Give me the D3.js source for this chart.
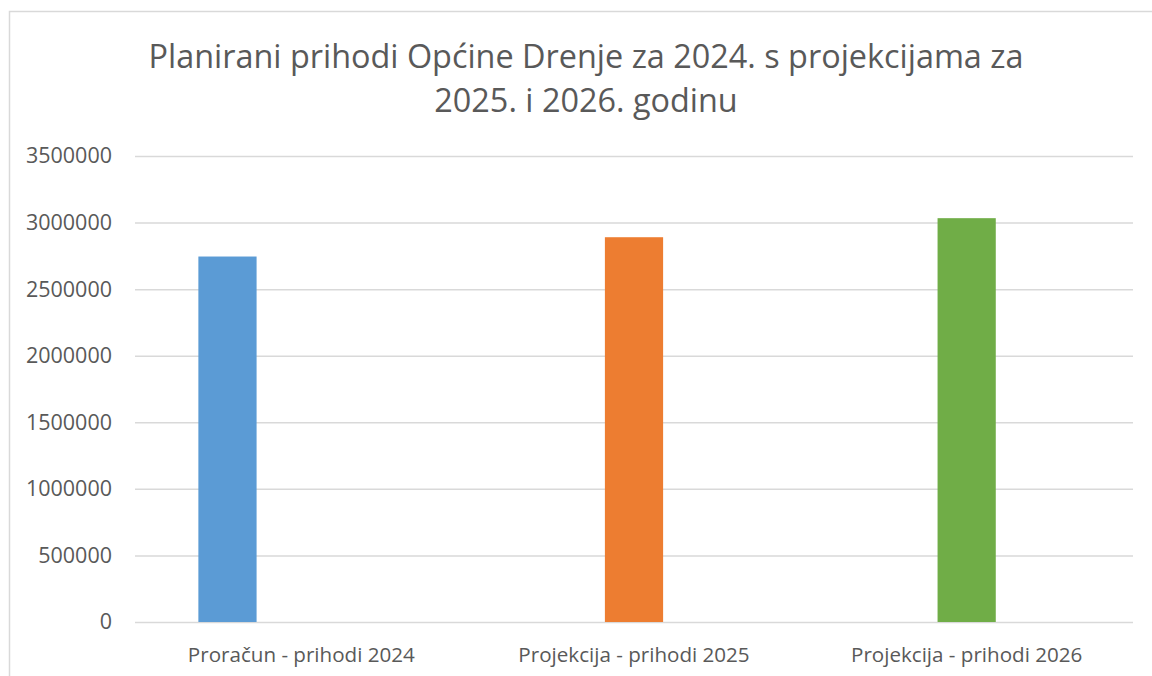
<!DOCTYPE html>
<html>
<head>
<meta charset="utf-8">
<script src="https://cdn.jsdelivr.net/npm/d3@7"></script>
<style>
  body { margin: 0; background: #fff; }
  svg { display: block; font-family: "Open Sans", sans-serif; }
</style>
</head>
<body>
<svg id="chart" width="1152" height="676"></svg>
<script>
const categories = ["Proračun - prihodi 2024", "Projekcija - prihodi 2025", "Projekcija - prihodi 2026"];
const values = [2745000, 2890000, 3033000];
const seriesOf = ["proracun", "projekcija", "projekcija"];
const barColors = ["#5b9bd5", "#ed7d31", "#70ad47"];
const yTicks = [0, 500000, 1000000, 1500000, 2000000, 2500000, 3000000, 3500000];
const titleLines = ["Planirani prihodi Općine Drenje za 2024. s projekcijama za", "2025. i 2026. godinu"];

const svg = d3.select("#chart");
const margin = { top: 156, right: 19, bottom: 54, left: 135 };
const width = 1152 - margin.left - margin.right;
const height = 676 - margin.top - margin.bottom;

// chart frame
svg.append("path")
  .attr("d", "M9.5,676 V11.5 H1152")
  .attr("fill", "none")
  .attr("stroke", "#d9d9d9")
  .attr("stroke-width", 1.5);

svg.append("text")
  .attr("x", 586)
  .attr("y", 68)
  .attr("text-anchor", "middle")
  .attr("fill", "#595959")
  .style("font-size", "32.4px")
  .selectAll("tspan")
  .data(titleLines)
  .enter()
  .append("tspan")
  .attr("x", 586)
  .attr("dy", (d, i) => (i === 0 ? 0 : 44))
  .text(d => d);

const g = svg.append("g").attr("transform", `translate(${margin.left},${margin.top})`);

const x = d3.scaleBand().domain(categories).range([0, width]);
const y = d3.scaleLinear().domain([0, 3500000]).range([height, 0]);

// offset of each series inside a category
const xSub = d3.scalePoint()
  .domain(["proracun", "projekcija"])
  .range([-0.222 * x.bandwidth(), 0]);
const barW = 0.175 * x.bandwidth();

const yAxis = d3.axisLeft(y)
  .tickValues(yTicks)
  .tickSize(-width)
  .tickPadding(23)
  .tickFormat(d3.format("d"));

g.append("g")
  .call(yAxis)
  .call(a => a.select(".domain").remove())
  .call(a => a.selectAll(".tick line").attr("stroke", "#d9d9d9").attr("stroke-width", 1.5))
  .call(a => a.selectAll(".tick text")
    .attr("fill", "#595959")
    .style("font-size", "21.5px")
    .style("font-family", "'Open Sans', sans-serif"));

g.selectAll(".bar")
  .data(values)
  .enter()
  .append("rect")
  .attr("class", "bar")
  .attr("x", (d, i) => x(categories[i]) + x.bandwidth() / 2 + xSub(seriesOf[i]) - barW / 2)
  .attr("y", d => y(d))
  .attr("width", barW)
  .attr("height", d => height - y(d))
  .attr("fill", (d, i) => barColors[i]);

const xAxis = d3.axisBottom(x).tickSize(0).tickPadding(25);

g.append("g")
  .attr("transform", `translate(0,${height})`)
  .call(xAxis)
  .call(a => a.select(".domain").remove())
  .call(a => a.selectAll(".tick text")
    .attr("fill", "#595959")
    .style("font-size", "20.6px")
    .style("font-family", "'Open Sans', sans-serif"));
</script>
</body>
</html>
